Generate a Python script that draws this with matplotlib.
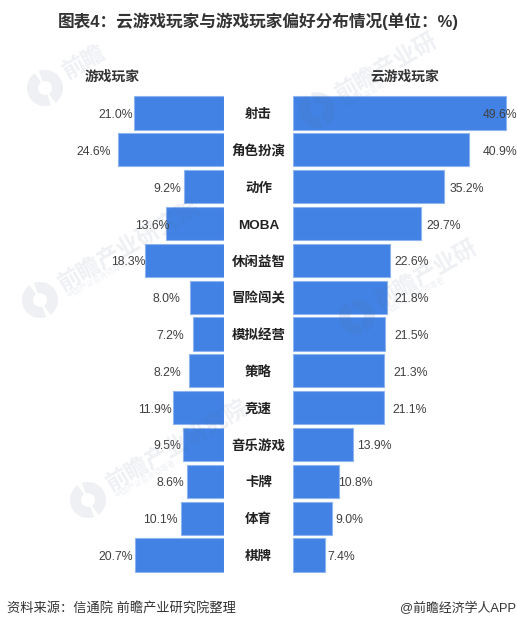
"""
Cloud gaming vs gaming preference, back-to-back bars.
"""
import matplotlib
matplotlib.use("Agg")
import matplotlib.pyplot as plt
from matplotlib.patches import Wedge

plt.rcParams["font.family"] = ["Liberation Sans", "Noto Sans CJK SC", "DejaVu Sans"]

W, H = 517, 629
DPI = 100

categories = ["射击", "角色扮演", "动作", "MOBA", "休闲益智", "冒险闯关", "模拟经营",
              "策略", "竞速", "音乐游戏", "卡牌", "体育", "棋牌"]
gamers = [21.0, 24.6, 9.2, 13.6, 18.3, 8.0, 7.2, 8.2, 11.9, 9.5, 8.6, 10.1, 20.7]
cloud_gamers = [49.6, 40.9, 35.2, 29.7, 22.6, 21.8, 21.5, 21.3, 21.1, 13.9, 10.8, 9.0, 7.4]

# label gaps from bar end, px (labels were placed by hand in the original)
left_gaps = [1, 7, 3, -4, 0, 9, 9, 8, 1, 2, 3, 3, 2]
right_gaps = [-23, 14, 5, 6, 4, 8, 9, 9, 9, 4, -1, 4, 3]

# watermark: logo centre in px from top left, and how much of the name shows
marks = [(45, 88, "前瞻"), (317, 110, "前瞻产业研"), (40, 300, "前瞻产业研究院"),
         (357, 317, "前瞻产业研"), (88, 500, "前瞻产业研究院")]

BAR = "#4182e4"
EDGE = "#8db4ee"
MARK = "#5a6f96"
PX_PER_UNIT = 213 / 49.6
TOP, BOTTOM = 94.6, 573.4
PT = 72 / DPI


def make_ax(fig, x0, x1):
    ax = fig.add_axes([x0 / W, 1 - BOTTOM / H, (x1 - x0) / W, (BOTTOM - TOP) / H])
    ax.axis("off")
    ax.patch.set_alpha(0)
    ax.set_ylim(len(categories) - 0.5, -0.5)
    return ax


def watermark(fig, x, y, name):
    py = H - y
    for t1, t2 in [(125, 290), (305, 110)]:
        logo = Wedge((x, py), 18, t1, t2, width=11, transform=None,
                     facecolor=MARK, edgecolor="none", alpha=0.1, zorder=5)
        fig.add_artist(logo)
    fig.text((x + 20) / W, 1 - (y - 14) / H, name, fontsize=16.5, color=MARK, alpha=0.1,
             rotation=30, rotation_mode="anchor", ha="left", va="center",
             fontweight="bold", zorder=5)
    if len(name) > 2:
        fig.text((x + 28) / W, 1 - (y - 3) / H, "中国产业咨询领导者", fontsize=5.5,
                 color=MARK, alpha=0.1, rotation=30, rotation_mode="anchor",
                 ha="left", va="center", zorder=5)


def main():
    fig = plt.figure(figsize=(W / DPI, H / DPI), dpi=DPI)

    ax_l = make_ax(fig, 0, 224)
    ax_l.set_xlim(224 / PX_PER_UNIT, 0)
    ax_r = make_ax(fig, 293, 517)
    ax_r.set_xlim(0, 224 / PX_PER_UNIT)

    ys = range(len(categories))
    ax_l.barh(ys, gamers, height=0.9, color=BAR, edgecolor=EDGE, linewidth=0.8)
    ax_r.barh(ys, cloud_gamers, height=0.9, color=BAR, edgecolor=EDGE, linewidth=0.8)

    for i, v in enumerate(gamers):
        ax_l.annotate(f"{v:.1f}%", (v, i), xytext=(-left_gaps[i] * PT, -2 * PT), textcoords="offset points",
                      ha="right", va="center", fontsize=8.8, color="#404040", annotation_clip=False)
    for i, v in enumerate(cloud_gamers):
        ax_r.annotate(f"{v:.1f}%", (v, i), xytext=(right_gaps[i] * PT, -2 * PT), textcoords="offset points",
                      ha="left", va="center", fontsize=8.8, color="#404040", annotation_clip=False)
    for i, name in enumerate(categories):
        ax_r.annotate(name, (0, i), xytext=(-34.5 * PT, -2 * PT), textcoords="offset points",
                      ha="center", va="center", fontsize=9.7, fontweight="bold", color="#222222",
                      annotation_clip=False)

    fig.text(112 / W, 1 - 77 / H, "游戏玩家", fontsize=9.9, fontweight="bold", color="#333333", ha="center", va="center")
    fig.text(405 / W, 1 - 77 / H, "云游戏玩家", fontsize=9.9, fontweight="bold", color="#333333", ha="center", va="center")
    fig.text(258 / W, 1 - 21 / H, "图表4：云游戏玩家与游戏玩家偏好分布情况(单位：%)", fontsize=12,
             fontweight="bold", color="#333333", ha="center", va="center")
    fig.text(7 / W, 1 - 608 / H, "资料来源：信通院 前瞻产业研究院整理", fontsize=9.5, color="#333333", ha="left", va="center")
    fig.text(516 / W, 1 - 608 / H, "@前瞻经济学人APP", fontsize=9.3, color="#333333", ha="right", va="center")

    for x, y, name in marks:
        watermark(fig, x, y, name)

    fig.savefig("out.png", dpi=DPI)


if __name__ == "__main__":
    main()
